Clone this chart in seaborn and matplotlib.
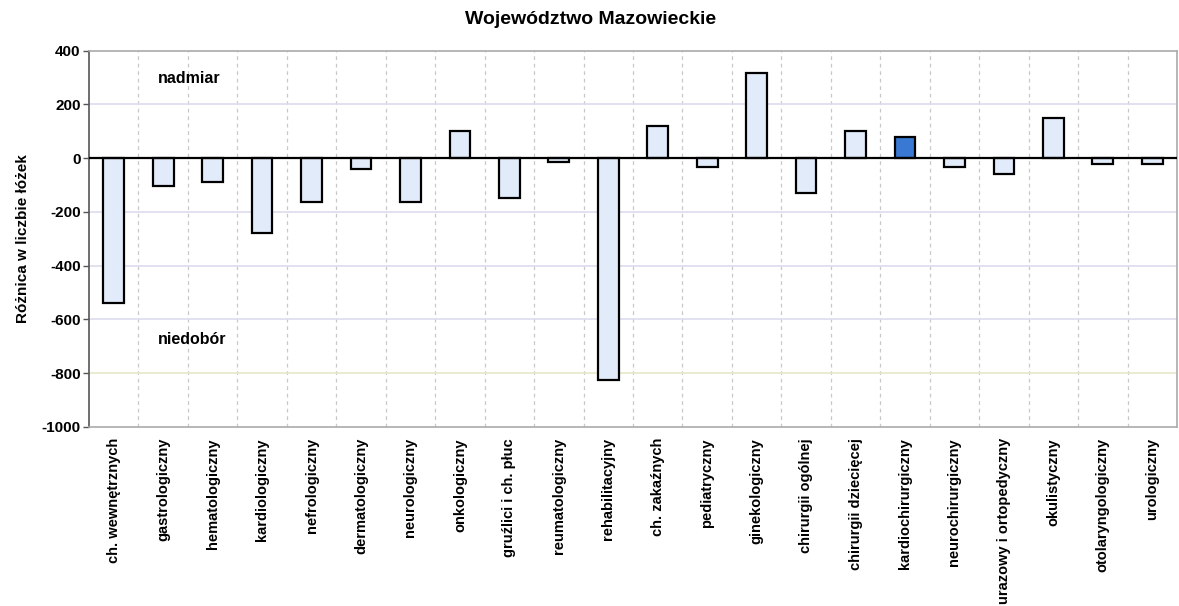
import matplotlib
matplotlib.use("Agg")
import matplotlib.pyplot as plt
import seaborn as sns
import numpy as np
import pandas as pd

categories = ["ch. wewnętrznych", "gastrologiczny", "hematologiczny", "kardiologiczny",
              "nefrologiczny", "dermatologiczny", "neurologiczny", "onkologiczny",
              "gruźlici i ch. płuc", "reumatologiczny", "rehabilitacyjny", "ch. zakaźnych",
              "pediatryczny", "ginekologiczny", "chirurgii ogólnej", "chirurgii dziecięcej",
              "kardiochirurgiczny", "neurochirurgiczny", "urazowy i ortopedyczny",
              "okulistyczny", "otolaryngologiczny", "urologiczny"]
values = [-540, -105, -90, -280, -165, -40, -165, 100, -150, -15, -825, 120,
          -35, 315, -130, 100, 80, -35, -60, 150, -22, -22]
highlight = "kardiochirurgiczny"
yticks = [-1000, -800, -600, -400, -200, 0, 200, 400]

sns.set_style("white")
plt.rcParams['font.family'] = ['Liberation Sans', 'DejaVu Sans']
plt.rcParams['text.color'] = 'black'
plt.rcParams['axes.labelcolor'] = 'black'
plt.rcParams['xtick.color'] = 'black'
plt.rcParams['ytick.color'] = 'black'

light = "#DDEBFD"
dark = "#1F74EE"
palette = {c: (dark if c == highlight else light) for c in categories}

df = pd.DataFrame({"cat": categories, "val": values})

fig = plt.figure(figsize=(11.79, 6.06), dpi=100)
ax = fig.add_axes([89/1179, (606-427)/606, (1177-89)/1179, 376.5/606])

sns.barplot(data=df, x="cat", y="val", hue="cat", palette=palette, legend=False,
            width=0.42, edgecolor="black", linewidth=1.6, ax=ax, zorder=3)

ax.set_xlim(-0.5, len(categories) - 0.5)
ax.set_ylim(-1000, 400)
ax.set_yticks(yticks)
ax.set_yticklabels([str(t) for t in yticks], fontsize=11, fontweight="bold")
ax.set_xticks(range(len(categories)))
ax.set_xticklabels(categories, rotation=90, fontsize=10.5, fontweight="bold")
ax.set_xticks(np.arange(0.5, len(categories) - 0.5, 1), minor=True)
ax.tick_params(axis="x", which="both", length=0, pad=8)
ax.tick_params(axis="y", length=4, width=1, color="#555555", pad=2)
ax.yaxis.set_ticks_position("left")

for t in yticks[1:-1]:
    if t == 0:
        continue
    col = "#E8E8C8" if t == -800 else "#DCDCEE"
    ax.axhline(t, color=col, lw=1.2, zorder=1)
ax.grid(which="minor", axis="x", color="#C8C8C8", linestyle=(0, (3, 3)), lw=0.9, zorder=1)
ax.axhline(0, color="black", lw=1.6, zorder=4)

for s in ax.spines.values():
    s.set_color("#AAAAAA")
    s.set_linewidth(1.2)
ax.spines["left"].set_color("#555555")

ax.set_xlabel("")
ax.set_ylabel("Różnica w liczbie łóżek", fontsize=11, fontweight="bold", labelpad=8)

ax.text(0.9, 295, "nadmiar", fontsize=11.5, fontweight="bold", va="center", ha="left")
ax.text(0.9, -675, "niedobór", fontsize=11.5, fontweight="bold", va="center", ha="left")

fig.text(591/1179, 1 - 19/606, "Województwo Mazowieckie", fontsize=14, fontweight="bold",
         ha="center", va="center")

fig.savefig("out.png", dpi=100)
